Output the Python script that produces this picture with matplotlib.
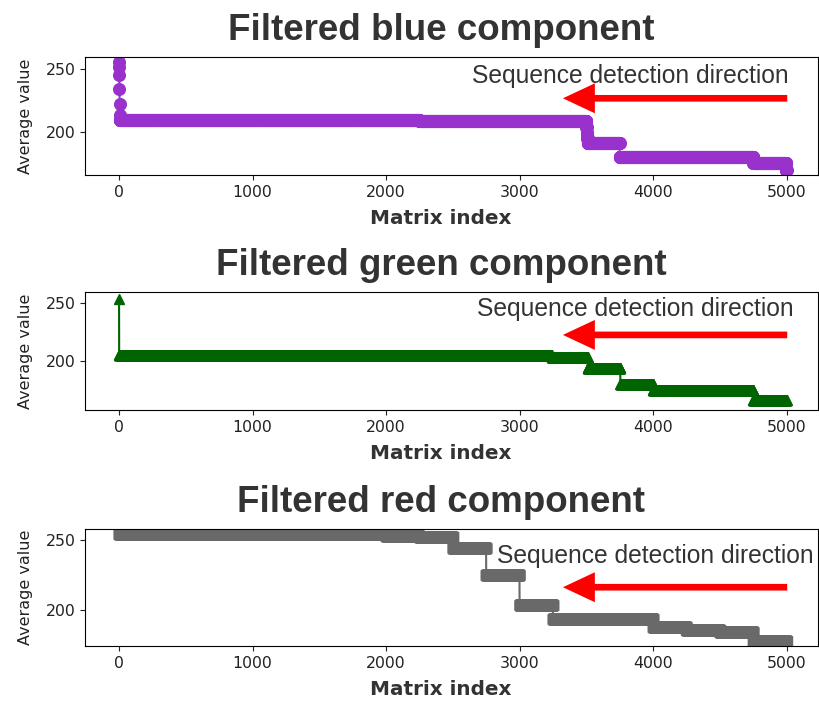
import numpy as np
import matplotlib.pyplot as plt

N_POINTS = 5001

# each run: first matrix index and the average value held from there on
blue_starts = [0, 1, 2, 3, 4, 5, 6, 2250, 3500, 3503, 3506, 3510, 3750, 4750, 4996]
blue_levels = [255, 251, 245, 234, 222, 213, 209.3, 208.3, 204, 199, 195, 191, 180.5, 175.5, 170]

green_starts = [0, 1, 3240, 3510, 3755, 4000, 4750]
green_levels = [253, 205.2, 203, 193.7, 180.2, 174.7, 166]

red_starts = [0, 2000, 2250, 2500, 2750, 3000, 3250, 4000, 4250, 4500, 4750]
red_levels = [254.5, 253.5, 252.5, 244.6, 225, 203.6, 192.8, 187.5, 185, 183.5, 177.5]

titles = ["Filtered blue component", "Filtered green component", "Filtered red component"]
x_ticks = [0, 1000, 2000, 3000, 4000, 5000]
y_ticks = [200, 250]


def runs_to_series(starts, levels, n=N_POINTS):
    lengths = np.diff(list(starts) + [n])
    return np.repeat(levels, lengths)


fig = plt.figure(figsize=(8.19, 7.02), dpi=100)

# (data, colour, marker, size, ylim, axes bottom, axes height,
#  title baseline, xlabel baseline, arrow y, text x, text y)
panels = [
    ((blue_starts, blue_levels), "darkorchid", "o", 8.4, (166, 259.2),
     0.7507, 0.1681, 0.943, 0.681, 0.650, 0.528, 0.782),
    ((green_starts, green_levels), "darkgreen", "^", 7.0, (157.5, 259.5),
     0.4160, 0.1681, 0.6083, 0.346, 0.636, 0.535, 0.797),
    ((red_starts, red_levels), "dimgray", "s", 7.3, (173.6, 258.3),
     0.0798, 0.1667, 0.2707, 0.010, 0.502, 0.5616, 0.712),
]

x_center = 441 / 819
for title, (data, color, marker, ms, ylim, bottom, height,
            t_y, xl_y, arr_y, txt_x, txt_y) in zip(titles, panels):
    ax = fig.add_axes([85 / 819, bottom, 733 / 819, height])
    y = runs_to_series(*data)
    x = np.arange(len(y))
    ax.plot(x, y, marker=marker, color=color, markersize=ms, linewidth=1.5)
    ax.set_xlim(-255, 5235)
    ax.set_ylim(*ylim)
    ax.set_xticks(x_ticks)
    ax.set_yticks(y_ticks)
    ax.tick_params(labelsize=11.3, colors="#222")
    ax.set_ylabel("Average value", fontsize=11.5, color="#222", labelpad=9)

    fig.text(x_center, t_y, title, ha="center", va="baseline", fontsize=26.5,
             weight="bold", family="Liberation Sans", color="#333")
    fig.text(x_center, xl_y, "Matrix index", ha="center", va="baseline",
             fontsize=14.4, weight="bold", color="#333")

    # direction arrow + caption
    ax.annotate("", xy=(0.652, arr_y), xytext=(0.958, arr_y),
                xycoords="axes fraction",
                arrowprops=dict(arrowstyle="simple,head_length=23,head_width=21.6,tail_width=4.8",
                                mutation_scale=1, color="red", lw=0,
                                shrinkA=0, shrinkB=0))
    ax.text(txt_x, txt_y, "Sequence detection direction", transform=ax.transAxes,
            ha="left", va="baseline", fontsize=17.7, family="Liberation Sans",
            color="#333")

fig.savefig("out.png", dpi=100)
